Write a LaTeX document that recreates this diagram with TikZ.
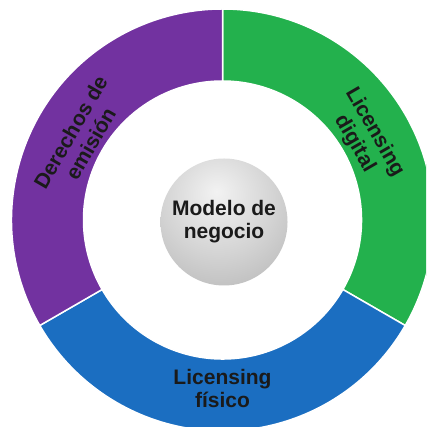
\documentclass[tikz,border=0pt]{standalone}
\usepackage{fontspec}
\setmainfont{Liberation Sans}

\definecolor{segpurple}{HTML}{7232A0}
\definecolor{seggreen}{HTML}{23B14D}
\definecolor{segblue}{HTML}{1B6EC1}
\definecolor{labelblack}{HTML}{1A1A1A}
\pgfdeclareradialshading{ballgrey}{\pgfpoint{-3bp}{12bp}}{%
  color(0bp)=(white!90!gray); color(22bp)=(gray!34);
  color(50bp)=(gray!68); color(100bp)=(gray!68)}

\begin{document}
\begin{tikzpicture}[x=1pt, y=1pt,
  segment/.style={draw=white, line width=1.5pt},
  ringlabel/.style={font=\fontsize{21}{23}\selectfont\bfseries, text=labelblack, align=center},
  ballnode/.style={circle, minimum size=127pt, inner sep=0pt, shading=ballgrey},
]
\useasboundingbox (0,0) rectangle (426,427);
\clip (0,0) rectangle (426,427);
\fill[white] (0,0) rectangle (426,427);

\coordinate (c) at (222.5,207);

\begin{scope}[shift={(c)}]
% ring segments
\path[fill=seggreen, segment] (90:211) arc[start angle=90, end angle=-30, radius=211]
  -- (-30:139) arc[start angle=-30, end angle=90, radius=139] -- cycle;
\path[fill=segblue, segment] (-30:211) arc[start angle=-30, end angle=-150, radius=211]
  -- (-150:139) arc[start angle=-150, end angle=-30, radius=139] -- cycle;
\path[fill=segpurple, segment] (210:211) arc[start angle=210, end angle=90, radius=211]
  -- (90:139) arc[start angle=90, end angle=210, radius=139] -- cycle;

% labels on the ring
\node[ringlabel, rotate=-60] (digital) at (30:164) {Licensing\\digital};
\node[ringlabel] (fisico) at (270:168) {Licensing\\físico};
\node[ringlabel, rotate=60] (emision) at (150:164) {Derechos de\\emisión};
\end{scope}

\node[ballnode, ringlabel] (modelo) at (224,205) {Modelo de\\negocio};

\end{tikzpicture}
\end{document}
